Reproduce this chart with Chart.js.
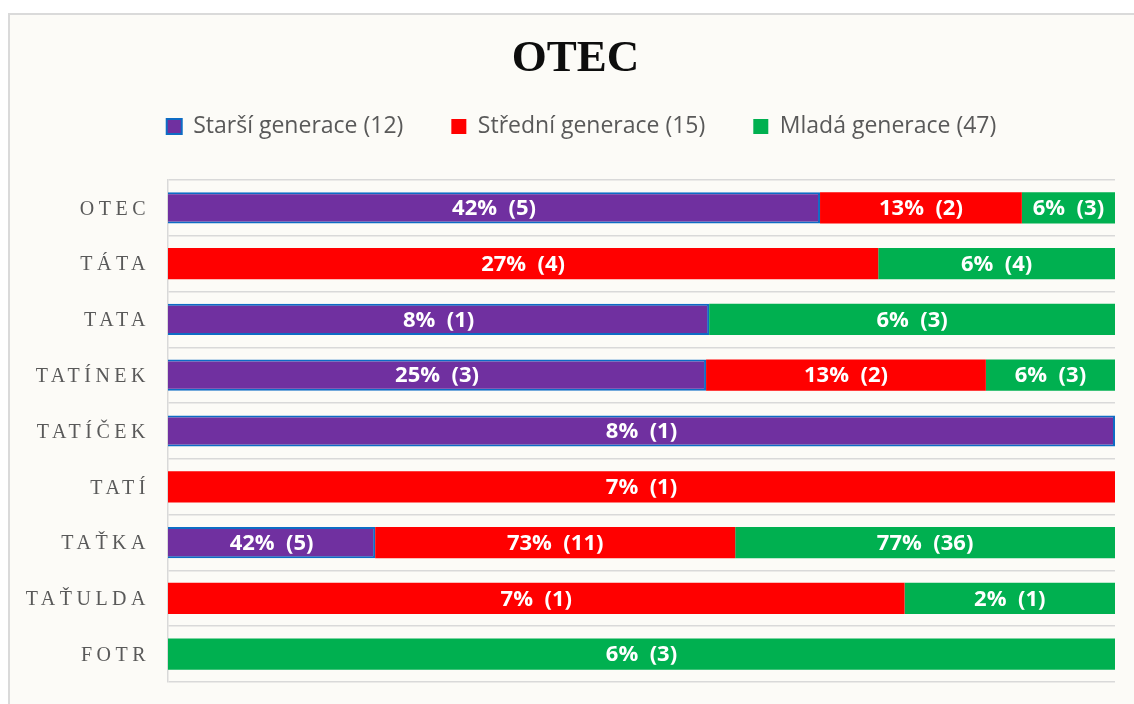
<!DOCTYPE html>
<html>
<head>
<meta charset="utf-8">
<script src="https://cdn.jsdelivr.net/npm/chart.js@4"></script>
<style>
    body { margin: 0; background: #ffffff; overflow: hidden; }
    .ramecek {
        position: absolute; left: 8px; top: 13px;
        width: 1140px; height: 700px;
        background: #fcfbf7; border: 2px solid #dadada;
    }
    #otecChart { position: absolute; left: 0; top: 0; }
</style>
</head>
<body>
<div class="ramecek">
    <canvas id="otecChart" width="1124" height="689"></canvas>
</div>
<script>
// kategorie (oslovení otce)
const kategorie = ['OTEC', 'TÁTA', 'TATA', 'TATÍNEK', 'TATÍČEK', 'TATÍ', 'TAŤKA', 'TAŤULDA', 'FOTR'];

// názvy skupin v legendě
const skupiny = ['Starší generace (12)', 'Střední generace (15)', 'Mladá generace (47)'];

// procenta (délka úseků v řádku)
const starsiPct = [42, 0, 8, 25, 8, 0, 42, 0, 0];
const stredniPct = [13, 27, 0, 13, 0, 7, 73, 7, 0];
const mladaPct = [6, 9, 6, 6, 0, 0, 77, 2, 6];

// procenta tak, jak jsou napsána v popiscích
const starsiPopisek = [42, 0, 8, 25, 8, 0, 42, 0, 0];
const stredniPopisek = [13, 27, 0, 13, 0, 7, 73, 7, 0];
const mladaPopisek = [6, 6, 6, 6, 0, 0, 77, 2, 6];

// počty respondentů
const starsiPocet = [5, 0, 1, 3, 1, 0, 5, 0, 0];
const stredniPocet = [2, 4, 0, 2, 0, 1, 11, 1, 0];
const mladaPocet = [3, 4, 3, 3, 0, 0, 36, 1, 3];

// přepočet na 100 % v každém řádku
function naSto(hodnoty) {
    return hodnoty.map((v, i) => {
        const soucet = starsiPct[i] + stredniPct[i] + mladaPct[i];
        return soucet ? v / soucet * 100 : 0;
    });
}

const popisky = [
    { pct: starsiPopisek, n: starsiPocet },
    { pct: stredniPopisek, n: stredniPocet },
    { pct: mladaPopisek, n: mladaPocet }
];

// popisky uvnitř pruhů
const popiskyPlugin = {
    id: 'popiskyPruhu',
    afterDatasetsDraw(chart) {
        const ctx = chart.ctx;
        ctx.save();
        ctx.font = 'bold 22px "Open Sans"';
        ctx.fillStyle = '#ffffff';
        ctx.textAlign = 'center';
        ctx.textBaseline = 'middle';
        chart.data.datasets.forEach((ds, d) => {
            const meta = chart.getDatasetMeta(d);
            meta.data.forEach((bar, i) => {
                if (!ds.data[i]) return;
                const x = (bar.x + bar.base) / 2;
                ctx.fillText(popisky[d].pct[i] + '%  (' + popisky[d].n[i] + ')', x, bar.y + 1);
            });
        });
        ctx.restore();
    }
};

// proložené písmo u osy y, posun nadpisu a legendy
function obal(box, pred) {
    const puvodni = box.draw;
    box.draw = function (area) {
        this.ctx.save();
        pred(this.ctx);
        puvodni.call(this, area);
        this.ctx.restore();
    };
    box._obaleno = true;
}
const upravyPlugin = {
    id: 'upravy',
    afterUpdate(chart) {
        const osa = chart.scales.y;
        if (!osa._obaleno) {
            const puvodni = osa.drawLabels;
            osa.drawLabels = function (area) {
                this.ctx.save();
                this.ctx.letterSpacing = '4.5px';
                this.ctx.translate(0, 1.5);
                puvodni.call(this, area);
                this.ctx.restore();
            };
            osa._obaleno = true;
        }
        if (!chart.titleBlock._obaleno) obal(chart.titleBlock, c => c.translate(13, 0));
        if (!chart.legend._obaleno) obal(chart.legend, c => c.translate(19, 0));
    }
};

const ctx = document.getElementById('otecChart').getContext('2d');
const otecChart = new Chart(ctx, {
    type: 'bar',
    data: {
        labels: kategorie,
        datasets: [
            {
                label: skupiny[0],
                data: naSto(starsiPct),
                backgroundColor: '#7030a0',
                borderColor: '#0e6cc4',
                borderWidth: 2
            },
            {
                label: skupiny[1],
                data: naSto(stredniPct),
                backgroundColor: '#ff0000',
                borderColor: '#ff0000',
                borderWidth: 0
            },
            {
                label: skupiny[2],
                data: naSto(mladaPct),
                backgroundColor: '#00b050',
                borderColor: '#00b050',
                borderWidth: 0
            }
        ]
    },
    options: {
        indexAxis: 'y',
        responsive: false,
        animation: false,
        layout: { padding: { left: 0, right: 19, top: 0, bottom: 22 } },
        datasets: {
            bar: { categoryPercentage: 1, barPercentage: 0.56 }
        },
        plugins: {
            title: {
                display: true,
                text: 'OTEC',
                color: '#0d0d0d',
                font: { family: '"Liberation Serif", "Times New Roman", serif', size: 45, weight: 'bold', lineHeight: 0.6 },
                padding: { top: 31, bottom: -6 }
            },
            legend: {
                display: true,
                position: 'top',
                labels: {
                    boxWidth: 15,
                    boxHeight: 15,
                    padding: 48,
                    color: '#595959',
                    font: { family: '"Open Sans"', size: 23 }
                }
            },
            tooltip: { enabled: false }
        },
        scales: {
            x: {
                position: 'top',
                stacked: true,
                min: 0,
                max: 100,
                ticks: { display: false },
                grid: { display: false },
                border: { display: false },
                afterFit(scale) { scale.height = 32; }
            },
            y: {
                stacked: true,
                ticks: {
                    color: '#595959',
                    padding: 18,
                    font: { family: '"Liberation Serif", "Times New Roman", serif', size: 20 }
                },
                grid: { color: '#d9d9d9', lineWidth: 1.5, drawTicks: false },
                border: { display: true, color: '#d9d9d9', width: 1.5 },
                afterFit(scale) {
                    scale.width = 158;
                    scale.paddingTop = 0;
                    scale.paddingBottom = 0;
                }
            }
        }
    },
    plugins: [popiskyPlugin, upravyPlugin]
});
</script>
</body>
</html>
